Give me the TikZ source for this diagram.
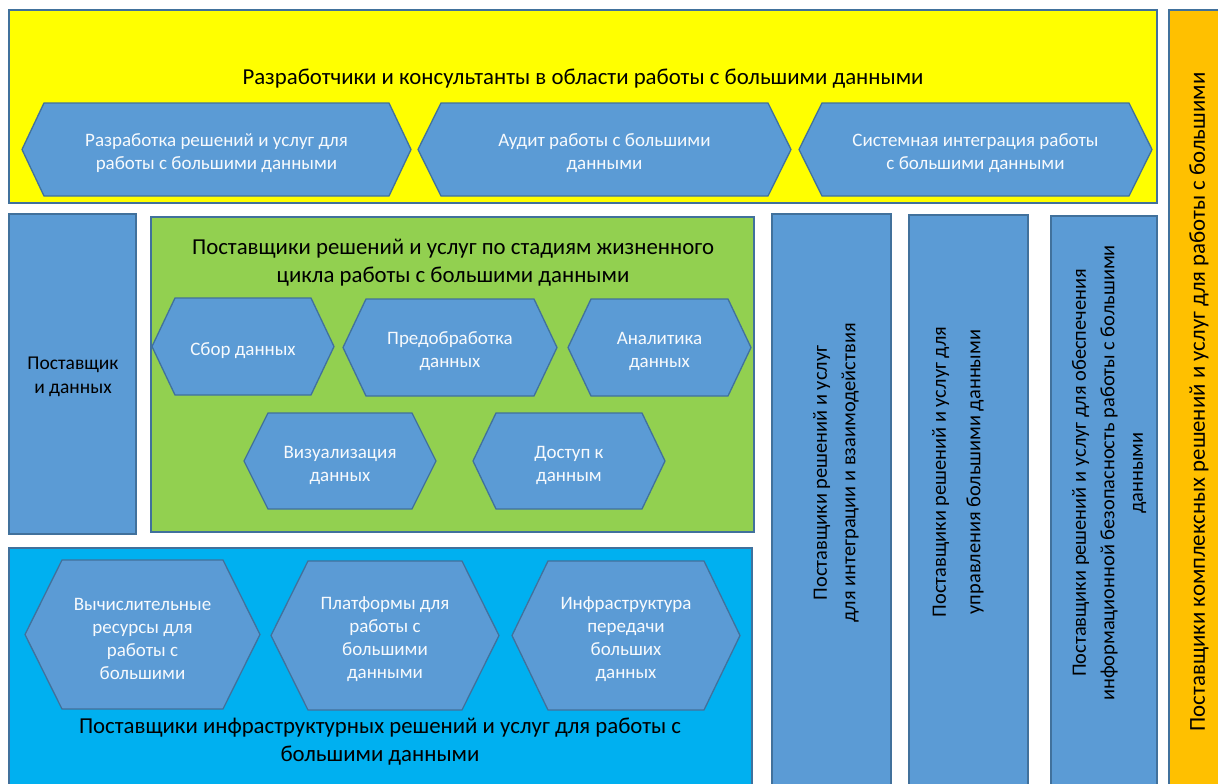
\documentclass[tikz,border=0pt]{standalone}
\usepackage{fontspec}
\setmainfont{Carlito}
\definecolor{edgeblue}{HTML}{41719C}
\definecolor{hexblue}{HTML}{5B9BD5}
\definecolor{boxyellow}{HTML}{FFFF00}
\definecolor{boxgreen}{HTML}{92D050}
\definecolor{boxcyan}{HTML}{00B0F0}
\definecolor{boxorange}{HTML}{FFC000}
% hexagon: name, left x, top y, right x, bottom y, indent, text
\newcommand{\hexbox}[7]{%
  \draw[hexshape] (#2,{(#3+#5)/2}) -- (#2+#6,#3) -- (#4-#6,#3) -- (#4,{(#3+#5)/2})
    -- (#4-#6,#5) -- (#2+#6,#5) -- cycle;
  \node[hextext] (#1) at ({(#2+#4)/2},{(#3+#5)/2}) {#7};
}
\begin{document}
\begin{tikzpicture}[x=1pt,y=-1pt,
  frame/.style={draw=edgeblue, line width=1.6pt},
  hexshape/.style={draw=edgeblue, fill=hexblue, line width=1.3pt, line join=miter},
  hextext/.style={text=white!95!hexblue, align=center, yshift=-4pt, font=\fontsize{19}{23}\selectfont},
  titletext/.style={align=center, yshift=-2.5pt, font=\fontsize{22.8}{28}\selectfont},
  boxtext/.style={align=center, yshift=-2pt, font=\fontsize{19.5}{24}\selectfont},
  vtext/.style={rotate=90, align=center, font=\fontsize{20.4}{28.5}\selectfont}]
\useasboundingbox (0,0) rectangle (1218,784);
\fill[white] (0,0) rectangle (1218,784);
\clip (0,0) rectangle (1218,784);

% top band: developers and consultants
\draw[frame, fill=boxyellow] (9,10) rectangle (1157,203);
\node[titletext] (devtitle) at (583,76) {Разработчики и консультанты в области работы с большими данными};
\hexbox{dev1}{22}{103}{411}{196}{22}{Разработка решений и услуг для\\работы с большими данными}
\hexbox{dev2}{418}{103}{791}{196}{23}{Аудит работы с большими\\данными}
\hexbox{dev3}{799}{103}{1152}{196}{23}{Системная интеграция работы\\с большими данными}

% complex solutions column
\draw[frame, fill=boxorange] (1169,10) rectangle (1240,800);
\node[vtext, font=\fontsize{22.8}{28}\selectfont] (complex) at (1199,402) {Поставщики комплексных решений и услуг для работы с большими};

% data providers
\draw[frame, fill=hexblue] (9,214) rectangle (136,534);
\node[boxtext] (dataprov) at (73,375) {Поставщик\\и данных};

% lifecycle stages
\draw[frame, fill=boxgreen] (151,217) rectangle (754,532);
\node[titletext] (lifetitle) at (453,260) {Поставщики решений и услуг по стадиям жизненного\\цикла работы с большими данными};
\hexbox{st1}{152}{298}{334}{395}{23}{Сбор данных}
\hexbox{st2}{343}{299}{557}{396}{23}{Предобработка\\данных}
\hexbox{st3}{568}{299}{751}{396}{23}{Аналитика\\данных}
\hexbox{st4}{244}{413}{436}{509}{24}{Визуализация\\данных}
\hexbox{st5}{473}{413}{665}{509}{23}{Доступ к\\данным}

% infrastructure
\draw[frame, fill=boxcyan] (9,548) rectangle (752,800);
\hexbox{inf1}{25}{560}{260}{709}{37}{Вычислительные\\ресурсы для\\работы с\\большими}
\hexbox{inf2}{271}{561}{499}{710}{37}{Платформы для\\работы с\\большими\\данными}
\hexbox{inf3}{512}{561}{740}{710}{36}{Инфраструктура\\передачи\\больших\\данных}
\node[titletext] (inftitle) at (380,739) {Поставщики инфраструктурных решений и услуг для работы с\\большими данными};

% vertical provider columns
\draw[frame, fill=hexblue] (772,214) rectangle (891,800);
\node[vtext] (integ) at (836,473) {Поставщики решений и услуг\\для интеграции и взаимодействия};
\draw[frame, fill=hexblue] (909,215) rectangle (1028,800);
\node[vtext] (manage) at (958,472) {Поставщики решений и услуг для\\[6pt]управления большими данными};
\draw[frame, fill=hexblue] (1051,216) rectangle (1157,800);
\node[vtext] (secur) at (1109,473) {Поставщики решений и услуг для обеспечения\\информационной безопасность работы с большими\\данными};
\end{tikzpicture}
\end{document}
